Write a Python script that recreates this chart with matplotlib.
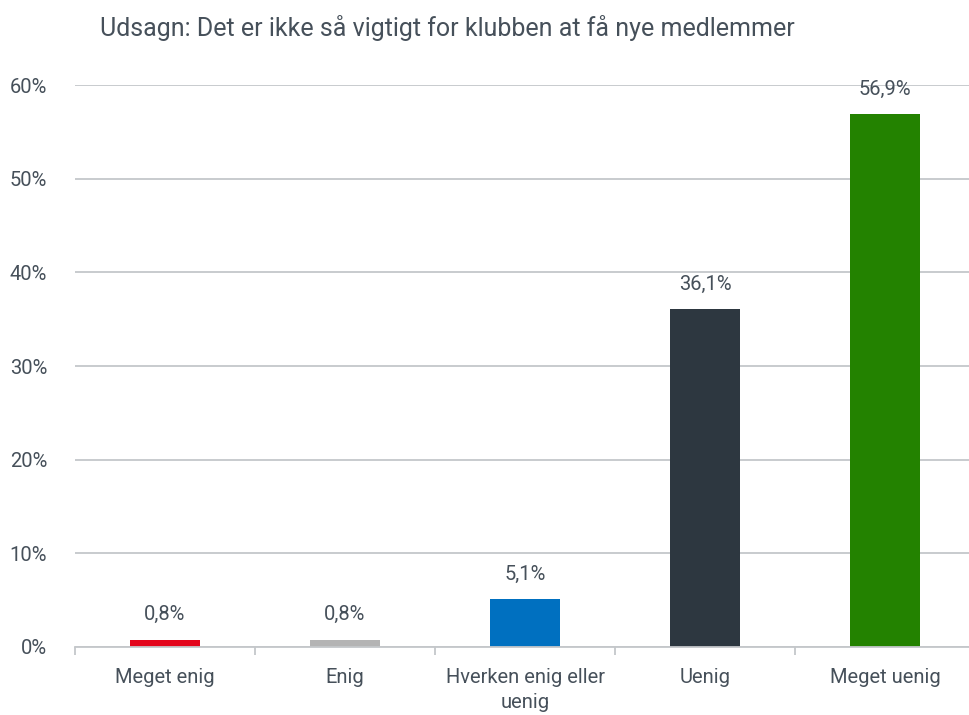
import matplotlib
matplotlib.use("Agg")
import matplotlib.pyplot as plt
from matplotlib.ticker import FuncFormatter

title = "Udsagn: Det er ikke så vigtigt for klubben at få nye medlemmer"
categories = ["Meget enig", "Enig", "Hverken enig eller\nuenig", "Uenig", "Meget uenig"]
values = [0.8, 0.8, 5.1, 36.1, 56.9]
labels = ["0,8%", "0,8%", "5,1%", "36,1%", "56,9%"]
colors = ["#E3051B", "#B4B4B4", "#0070C0", "#2D3740", "#238200"]

txt = "#46505A"
plt.rcParams['font.family'] = ['Roboto', 'DejaVu Sans']

fig = plt.figure(figsize=(9.7, 7.15), dpi=100)
ax = fig.add_axes([75/970, 68/715, 900/970, 562/715])

x = list(range(len(categories)))
ax.bar(x, values, width=0.39, color=colors, zorder=3)
for xi, v, lab in zip(x, values, labels):
    ax.annotate(lab, (xi, v), xytext=(0, 11), textcoords="offset points",
                ha="center", va="bottom", fontsize=14.5, color=txt, zorder=4)

ax.set_xlim(-0.5, 4.5)
ax.set_ylim(0, 60)
ax.set_yticks(range(0, 61, 10))
ax.yaxis.set_major_formatter(FuncFormatter(lambda v, p: f"{v:.0f}%"))
ax.set_xticks(x)
ax.set_xticklabels(categories, fontsize=14.5, color=txt, linespacing=1.4)
ax.set_xticks([i + 0.5 for i in range(-1, 5)], minor=True)
ax.tick_params(axis="x", which="major", length=0, pad=15)
ax.tick_params(axis="x", which="minor", length=6, color="#C4C7CA", width=1.3)
ax.tick_params(axis="y", length=0, labelsize=14.5, labelcolor=txt, pad=20)

ax.grid(axis="y", color="#C4C7CA", linewidth=1.3, zorder=0)
for s in ["top", "right", "left"]:
    ax.spines[s].set_visible(False)
ax.spines["bottom"].set_color("#C4C7CA")
ax.spines["bottom"].set_linewidth(1.3)
ax.spines["bottom"].set_zorder(5)

fig.text(100/970, 1 - 28/715, title, fontsize=18, color=txt, ha="left", va="center")

fig.savefig("out.png", dpi=100)
